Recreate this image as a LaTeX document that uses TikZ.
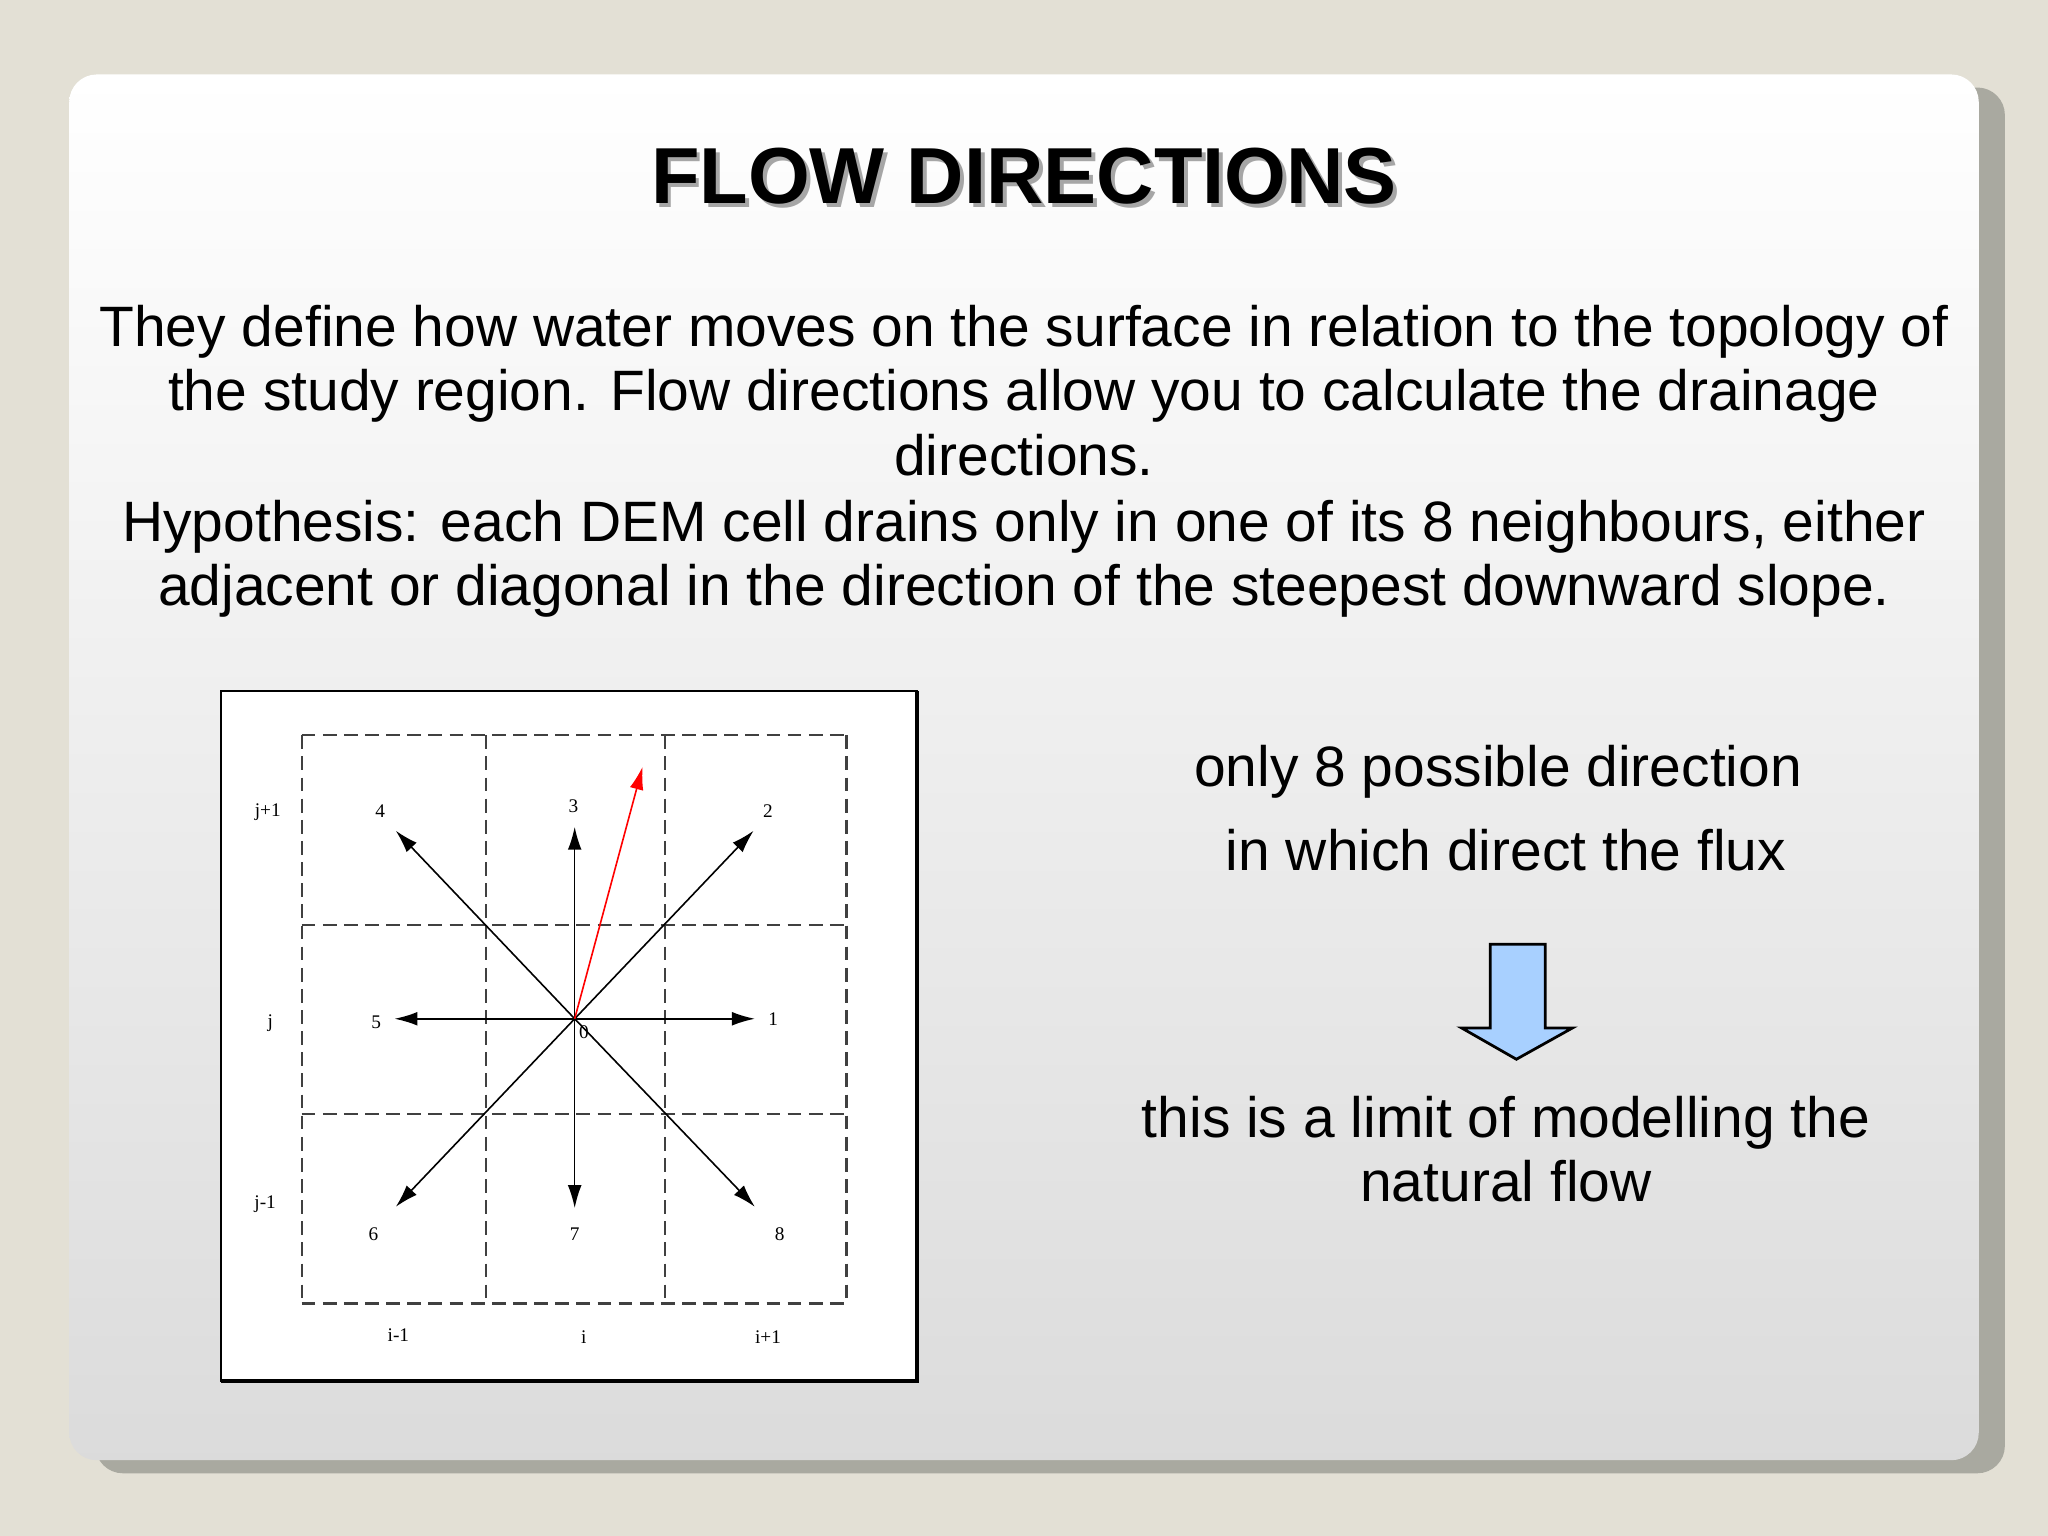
\documentclass[tikz,border=0pt]{standalone}
\usepackage{fontspec}
\setmainfont{Liberation Sans}
\newfontfamily\smallserif{Liberation Serif}
\usetikzlibrary{arrows.meta,shadows}
\definecolor{bgc}{HTML}{E3E0D5}
\definecolor{shad}{HTML}{A9A9A0}
\definecolor{flowblue}{HTML}{A8D0FF}
\tikzset{
  body/.style={font=\fontsize{12.4pt}{14pt}\selectfont, align=center, inner sep=0pt},
  lab/.style={font=\smallserif\fontsize{4.2pt}{5pt}\selectfont, inner sep=0pt},
  gridl/.style={dash pattern=on 3pt off 1.6pt, line width=0.5pt, color=black!75},
  dir/.style={-{Latex[length=5pt,width=3pt]}, line width=0.35pt}
}
\begin{document}
\begin{tikzpicture}[x=0.01cm,y=-0.01cm]
\useasboundingbox (0,0) rectangle (1568,1176);
\fill[bgc] (0,0) rectangle (1568,1176);
\fill[shad,rounded corners=6] (73,67) rectangle (1535,1128);
\shade[top color=white,bottom color=black!14,rounded corners=6] (53,57) rectangle (1515,1118);
% title
\node[font=\bfseries\fontsize{17.3pt}{20pt}\selectfont, text=black!35, inner sep=0pt] at (787,138) {FLOW DIRECTIONS};
\node (title) [font=\bfseries\fontsize{17.3pt}{20pt}\selectfont, inner sep=0pt] at (784,135) {FLOW DIRECTIONS};
\node (p1) [body] at (784,299) {They define how water moves on the surface in relation to the topology of\\the study region. Flow directions allow you to calculate the drainage\\directions.};
\node (p2) [body] at (784,428) {Hypothesis: each DEM cell drains only in one of its 8 neighbours, either\\adjacent or diagonal in the direction of the steepest downward slope.};
% figure
\draw[fill=white, line width=0.5pt] (169,529) rectangle (702,1057);
\draw[line width=0.9pt] (169,1057) -- (702,1057) -- (702,529);
\foreach \x in {231,372,509,648} \draw[gridl] (\x,563) -- (\x,998);
\foreach \y in {563,708,853,998} \draw[gridl] (231,\y) -- (648,\y);
\coordinate (c) at (440,780);
\coordinate (e1) at (578,780); \coordinate (e5) at (302,780);
\coordinate (e3) at (440,633); \coordinate (e7) at (440,925);
\coordinate (e2) at (577,636); \coordinate (e4) at (303,636);
\coordinate (e6) at (303,924); \coordinate (e8) at (578,924);
\coordinate (er) at (492,587);
\foreach \e in {e1,e2,e3,e4,e5,e6,e7,e8} \draw[dir] (c) -- (\e);
\draw[dir, red] (c) -- (er);
\node[lab] at (592,780) {1}; \node[lab] at (588,621) {2};
\node[lab] at (439,617) {3}; \node[lab] at (291,621) {4};
\node[lab] at (288,783) {5}; \node[lab] at (286,945) {6};
\node[lab] at (440,945) {7}; \node[lab] at (597,945) {8};
\node[lab] at (447,790) {0};
\node[lab] at (205,622) {j+1}; \node[lab] at (207,783) {j}; \node[lab] at (203,922) {j-1};
\node[lab] at (305,1022) {i-1}; \node[lab] at (447,1024) {i}; \node[lab] at (588,1024) {i+1};
% right text
\node (r1) [body] at (1147,591) {only 8 possible direction};
\node (r2) [body] at (1153,651) {in which direct the flux};
\draw[fill=flowblue, line width=0.6pt] (1141,723) -- (1183,723) -- (1183,787) -- (1204,787) -- (1161,811) -- (1119,787) -- (1141,787) -- cycle;
\node (r3) [body] at (1153,880) {this is a limit of modelling the\\natural flow};
\end{tikzpicture}
\end{document}
